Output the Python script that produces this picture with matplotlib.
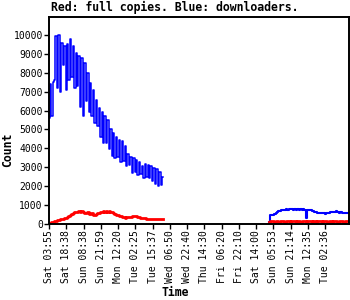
import matplotlib
matplotlib.use("Agg")
import matplotlib.pyplot as plt
import numpy as np

# tick labels (one label every 12 samples)
tick_labels = ["Sat 03:55", "Sat 18:38", "Sun 08:38", "Sun 21:59", "Mon 12:20",
               "Tue 02:25", "Tue 15:37", "Wed 06:50", "Wed 22:40", "Thu 14:30",
               "Fri 06:20", "Fri 22:10", "Sat 14:00", "Sun 05:53", "Sun 21:14",
               "Mon 12:35", "Tue 02:36"]
tick_step = 12

# first run: samples 0..79
blue_1 = [5600, 7400, 5700, 7500, 7600, 9950, 7200, 10000, 7000, 9600,
          8400, 9400, 7100, 9500, 7600, 9800, 7800, 9400, 7200, 9050,
          7300, 8900, 6200, 8800, 5700, 8500, 6500, 8000, 5900, 7450,
          5700, 7100, 5350, 6550, 5200, 6150, 4600, 5950, 4300, 5700,
          4300, 5500, 3950, 5000, 3600, 4800, 3500, 4600, 3550, 4450,
          3300, 4400, 3350, 4100, 3050, 3700, 3100, 3550, 2700, 3500,
          2750, 3400, 2600, 3300, 2650, 3050, 2450, 3200, 2500, 3100,
          2450, 3050, 2250, 2950, 2100, 2900, 2000, 2750, 2050, 2500]
red_1 = [20, 50, 80, 110, 150, 170, 190, 210, 240, 250,
         290, 310, 340, 380, 440, 500, 540, 580, 610, 640,
         620, 680, 650, 700, 640, 600, 580, 610, 540, 520,
         560, 480, 500, 530, 560, 600, 640, 620, 680, 650,
         700, 660, 690, 640, 620, 580, 540, 500, 470, 430,
         410, 380, 360, 340, 370, 350, 390, 380, 420, 400,
         430, 410, 380, 360, 340, 320, 300, 310, 290, 280,
         270, 280, 260, 250, 270, 250, 260, 240, 250, 250]

# second run: samples 153..208
start_2 = 153
blue_2 = [100, 465, 470, 480, 520, 590, 630, 680, 700, 730,
          760, 740, 790, 760, 800, 770, 790, 750, 780, 760,
          790, 740, 770, 750, 780, 720, 300, 760, 740, 720,
          700, 690, 660, 640, 600, 590, 570, 560, 580, 550,
          590, 570, 600, 620, 650, 660, 640, 670, 630, 600,
          620, 580, 600, 570, 590, 580]
red_2 = [130, 150, 140, 160, 130, 150, 140, 130, 160, 140,
         150, 130, 140, 160, 150, 130, 140, 150, 160, 130,
         140, 150, 130, 160, 140, 150, 130, 140, 150, 160,
         130, 140, 150, 130, 160, 140, 150, 130, 140, 150,
         160, 130, 140, 150, 130, 160, 140, 150, 130, 140,
         150, 160, 130, 140, 150, 140]

x1 = np.arange(len(blue_1))
x2 = np.arange(start_2, start_2 + len(blue_2))

fig = plt.figure(figsize=(3.5, 3.0), dpi=100)
ax = fig.add_axes([49/350, 1-224/300, 300/350, 207/300])

ax.plot(x1, blue_1, color="#0000ff", lw=1.1, drawstyle="steps-mid")
ax.plot(x2, blue_2, color="#0000ff", lw=1.5, drawstyle="steps-mid")
ax.plot(x1, red_1, color="#ff0000", lw=2, drawstyle="steps-mid")
ax.plot(x2, red_2, color="#ff0000", lw=2, drawstyle="steps-mid")

ax.set_xlim(0, 208.5)
ax.set_ylim(0, 10950)
ax.set_yticks(range(0, 10001, 1000))
ax.set_xticks(np.arange(len(tick_labels)) * tick_step)
ax.set_xticklabels(tick_labels, rotation=90, family="DejaVu Sans Mono", fontsize=7)
for t in ax.get_yticklabels():
    t.set_family("DejaVu Sans Mono")
    t.set_fontsize(7)
ax.tick_params(direction="out", length=3.5, width=1, pad=1)
for s in ax.spines.values():
    s.set_linewidth(1.4)

fig.text(0.5, 0.975, "Red: full copies. Blue: downloaders.", ha="center", va="center",
         family="DejaVu Sans Mono", fontweight="bold", fontsize=8.3)
fig.text(7.5/350, 0.5, "Count", rotation=90, ha="center", va="center",
         family="DejaVu Sans Mono", fontweight="bold", fontsize=8.3)
fig.text(0.5, 1-292/300, "Time", ha="center", va="center",
         family="DejaVu Sans Mono", fontweight="bold", fontsize=8.3)

fig.savefig("out.png", dpi=100)
